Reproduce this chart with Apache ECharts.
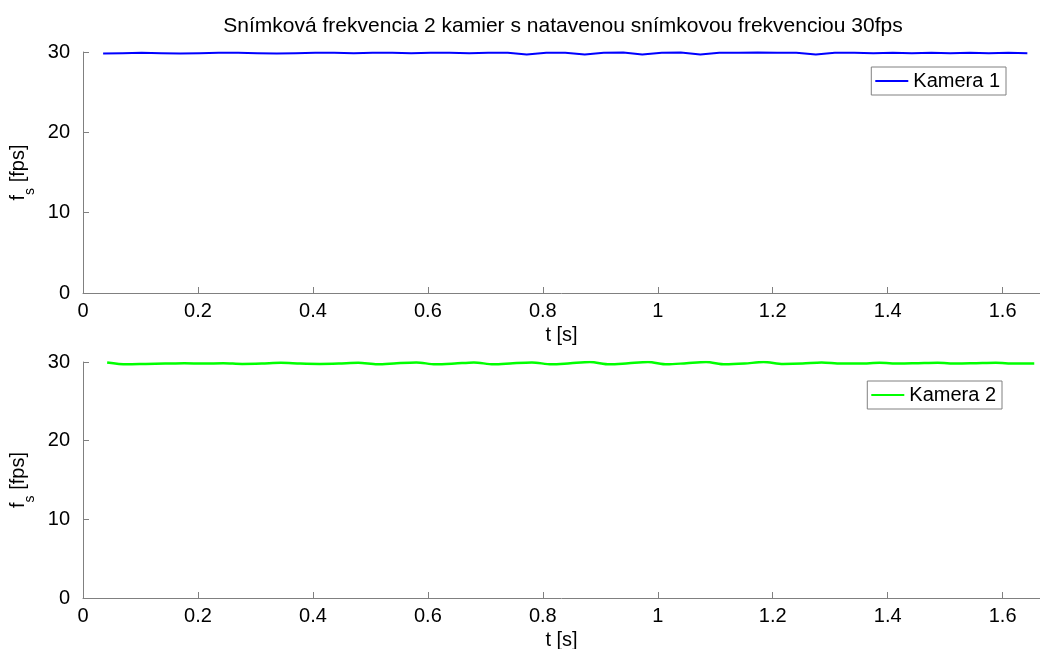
<!DOCTYPE html>
<html>
<head>
<meta charset="utf-8">
<script src="https://cdn.jsdelivr.net/npm/echarts@6/dist/echarts.min.js"></script>
<style>
  html, body { margin: 0; padding: 0; background: #fff; }
  #chart { width: 1040px; height: 649px; }
</style>
</head>
<body>
<div id="chart"></div>
<script>
// Kamera 1 - casy snimok [s] a snimkova frekvencia [fps]
var cam1Time = [0.035, 0.069, 0.102, 0.136, 0.169, 0.203, 0.236, 0.270, 0.303, 0.337,
  0.370, 0.404, 0.437, 0.471, 0.504, 0.538, 0.571, 0.605, 0.638, 0.672,
  0.705, 0.739, 0.772, 0.806, 0.839, 0.873, 0.906, 0.940, 0.973, 1.007,
  1.040, 1.074, 1.107, 1.141, 1.174, 1.208, 1.241, 1.275, 1.308, 1.342,
  1.375, 1.409, 1.442, 1.476, 1.509, 1.543, 1.576, 1.610, 1.643]
var cam1Fps = [29.8, 29.85, 29.9, 29.85, 29.8, 29.85, 29.9, 29.9, 29.85, 29.8,
  29.85, 29.9, 29.9, 29.85, 29.9, 29.9, 29.85, 29.9, 29.9, 29.85,
  29.9, 29.9, 29.7, 29.9, 29.9, 29.7, 29.9, 29.95, 29.7, 29.9,
  29.95, 29.7, 29.9, 29.9, 29.95, 29.9, 29.9, 29.7, 29.9, 29.9,
  29.85, 29.9, 29.85, 29.9, 29.85, 29.9, 29.85, 29.9, 29.85]

// Kamera 2
var cam2Time = [0.042, 0.076, 0.109, 0.143, 0.176, 0.210, 0.244, 0.277, 0.311, 0.344,
  0.378, 0.412, 0.445, 0.479, 0.512, 0.546, 0.580, 0.613, 0.647, 0.680,
  0.714, 0.748, 0.781, 0.815, 0.848, 0.882, 0.916, 0.949, 0.983, 1.016,
  1.050, 1.084, 1.117, 1.151, 1.184, 1.218, 1.252, 1.285, 1.319, 1.352,
  1.386, 1.420, 1.453, 1.487, 1.520, 1.554, 1.588, 1.621, 1.655]
var cam2Fps = [29.95, 29.7, 29.75, 29.8, 29.85, 29.8, 29.85, 29.75, 29.8, 29.9,
  29.8, 29.75, 29.8, 29.9, 29.7, 29.85, 29.95, 29.7, 29.8, 29.95,
  29.7, 29.85, 29.95, 29.7, 29.85, 30.0, 29.7, 29.85, 30.0, 29.7,
  29.85, 30.0, 29.7, 29.8, 30.0, 29.75, 29.8, 29.95, 29.8, 29.8,
  29.9, 29.8, 29.85, 29.9, 29.8, 29.85, 29.9, 29.8, 29.8]

var yTicks = [0, 10, 20, 30]
var xTicks = [0, 0.2, 0.4, 0.6, 0.8, 1, 1.2, 1.4, 1.6]

var chart = echarts.init(document.getElementById('chart'))
var font = 'Liberation Sans, Arial, sans-serif'
var axisGray = '#808080'

function pairs(xs, ys) {
  return xs.map(function (x, i) { return [x, ys[i]] })
}

function xAxis(idx) {
  return {
    type: 'value',
    gridIndex: idx,
    min: 0,
    max: 1.665,
    interval: 0.2,
    name: 't [s]',
    nameLocation: 'middle',
    nameGap: 32,
    nameTextStyle: { fontFamily: font, fontSize: 20, color: '#000' },
    axisLine: { show: true, lineStyle: { color: axisGray, width: 1 } },
    axisTick: { show: true, inside: true, length: 6, lineStyle: { color: axisGray } },
    axisLabel: {
      fontFamily: font, fontSize: 20, color: '#000', margin: 8,
      showMaxLabel: false,
      formatter: function (v) {
        var r = Math.round(v * 10) / 10
        return xTicks.indexOf(r) >= 0 ? String(r) : ''
      }
    },
    splitLine: { show: false }
  }
}

function yAxis(idx) {
  return {
    type: 'value',
    gridIndex: idx,
    min: yTicks[0],
    max: yTicks[yTicks.length - 1],
    interval: 10,
    name: '{a|f}{s|s}{a| [fps]}',
    nameLocation: 'middle',
    nameGap: 44,
    nameRotate: 90,
    nameTextStyle: {
      fontFamily: font, color: '#000',
      rich: {
        a: { fontFamily: font, fontSize: 20, color: '#000', lineHeight: 28, verticalAlign: 'top' },
        s: { fontFamily: font, fontSize: 14, color: '#000', lineHeight: 28, verticalAlign: 'bottom', padding: [12, 0, 0, 0] }
      }
    },
    axisLine: { show: true, lineStyle: { color: axisGray, width: 1 } },
    axisTick: { show: true, inside: true, length: 6, lineStyle: { color: axisGray } },
    axisLabel: { fontFamily: font, fontSize: 20, color: '#000', margin: 13 },
    splitLine: { show: false }
  }
}

function legend(name, top, right) {
  return {
    data: [{ name: name, icon: 'rect' }],
    top: top,
    right: right,
    orient: 'vertical',
    itemWidth: 33,
    itemHeight: 2,
    itemGap: 0,
    padding: [4, 6, 4, 4],
    borderColor: '#808080',
    borderWidth: 1,
    backgroundColor: '#fff',
    textStyle: { fontFamily: font, fontSize: 20, color: '#000', padding: [0, 0, 0, 0] }
  }
}

var option = {
  animation: false,
  backgroundColor: '#fff',
  title: {
    text: 'Snímková frekvencia 2 kamier s natavenou snímkovou frekvenciou 30fps',
    left: 558,
    textAlign: 'center',
    top: 11,
    textStyle: { fontFamily: font, fontSize: 21, fontWeight: 'normal', color: '#000' }
  },
  legend: [
    legend('Kamera 1', 67, 34),
    legend('Kamera 2', 381, 38)
  ],
  grid: [
    { left: 83, right: 0, top: 52, height: 241, outerBoundsMode: 'none' },
    { left: 83, right: 0, top: 362, height: 236, outerBoundsMode: 'none' }
  ],
  xAxis: [xAxis(0), xAxis(1)],
  yAxis: [yAxis(0), yAxis(1)],
  series: [
    {
      name: 'Kamera 1',
      type: 'line',
      xAxisIndex: 0,
      yAxisIndex: 0,
      data: pairs(cam1Time, cam1Fps),
      showSymbol: false,
      color: '#0000ff',
      lineStyle: { color: '#0000ff', width: 2 }
    },
    {
      name: 'Kamera 2',
      type: 'line',
      xAxisIndex: 1,
      yAxisIndex: 1,
      data: pairs(cam2Time, cam2Fps),
      showSymbol: false,
      smooth: 0.3,
      color: '#00ff00',
      lineStyle: { color: '#00ff00', width: 2.5 }
    }
  ]
}

chart.setOption(option)
</script>
</body>
</html>
